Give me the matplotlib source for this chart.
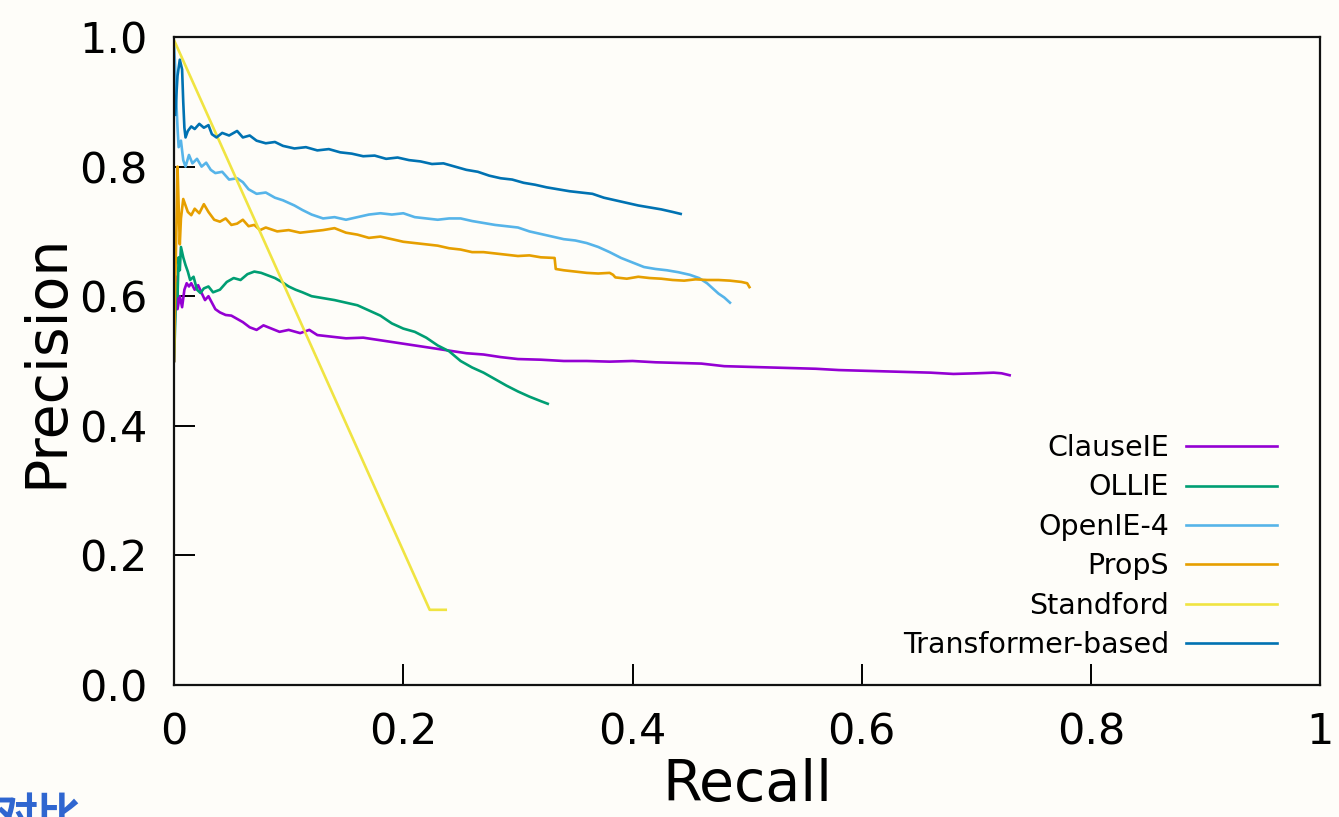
"""
Precision / recall curves of open IE systems, gnuplot-like styling.
"""
import matplotlib
matplotlib.use("Agg")
import matplotlib.pyplot as plt

BG = "#fefdf9"

# series values (recall, precision)
clauseie_r = [0.0, 0.001, 0.002, 0.003, 0.005, 0.007, 0.009, 0.011, 0.013, 0.015,
              0.018, 0.021, 0.024, 0.027, 0.030, 0.033, 0.036, 0.040, 0.045, 0.050,
              0.055, 0.060, 0.066, 0.072, 0.078, 0.085, 0.092, 0.100, 0.110, 0.118,
              0.125, 0.135, 0.150, 0.165, 0.180, 0.195, 0.210, 0.225, 0.240, 0.255,
              0.270, 0.285, 0.300, 0.320, 0.340, 0.360, 0.380, 0.400, 0.420, 0.440,
              0.460, 0.480, 0.500, 0.520, 0.540, 0.560, 0.580, 0.600, 0.620, 0.640,
              0.660, 0.680, 0.700, 0.715, 0.722, 0.729]
clauseie_p = [0.50, 0.60, 0.63, 0.58, 0.60, 0.583, 0.61, 0.62, 0.615, 0.62,
              0.61, 0.617, 0.605, 0.594, 0.60, 0.59, 0.58, 0.575, 0.571, 0.57,
              0.565, 0.56, 0.552, 0.548, 0.555, 0.55, 0.545, 0.548, 0.543, 0.548,
              0.54, 0.538, 0.535, 0.536, 0.532, 0.528, 0.524, 0.52, 0.516, 0.512,
              0.51, 0.506, 0.503, 0.502, 0.50, 0.50, 0.499, 0.50, 0.498, 0.497,
              0.496, 0.492, 0.491, 0.49, 0.489, 0.488, 0.486, 0.485, 0.484, 0.483,
              0.482, 0.48, 0.481, 0.482, 0.481, 0.478]

ollie_r = [0.0, 0.001, 0.002, 0.003, 0.004, 0.005, 0.006, 0.008, 0.010, 0.012,
           0.014, 0.017, 0.020, 0.023, 0.026, 0.030, 0.034, 0.040, 0.046, 0.052,
           0.058, 0.064, 0.070, 0.076, 0.082, 0.088, 0.094, 0.100, 0.106, 0.112,
           0.120, 0.130, 0.140, 0.150, 0.160, 0.170, 0.180, 0.190, 0.200, 0.210,
           0.220, 0.230, 0.240, 0.250, 0.260, 0.270, 0.280, 0.290, 0.300, 0.310,
           0.320, 0.326]
ollie_p = [0.50, 0.56, 0.62, 0.60, 0.66, 0.64, 0.676, 0.66, 0.648, 0.638,
           0.625, 0.63, 0.61, 0.605, 0.612, 0.615, 0.606, 0.61, 0.622, 0.628,
           0.625, 0.634, 0.638, 0.636, 0.632, 0.628, 0.622, 0.615, 0.61, 0.606,
           0.60, 0.597, 0.594, 0.59, 0.586, 0.578, 0.57, 0.558, 0.55, 0.545,
           0.536, 0.524, 0.515, 0.50, 0.49, 0.482, 0.472, 0.462, 0.453, 0.445,
           0.438, 0.434]

openie_r = [0.0, 0.001, 0.002, 0.003, 0.004, 0.006, 0.008, 0.010, 0.013, 0.016,
            0.020, 0.024, 0.028, 0.032, 0.036, 0.042, 0.048, 0.055, 0.060, 0.065,
            0.072, 0.080, 0.088, 0.095, 0.105, 0.112, 0.120, 0.130, 0.140, 0.150,
            0.160, 0.170, 0.180, 0.190, 0.200, 0.210, 0.220, 0.230, 0.240, 0.250,
            0.260, 0.270, 0.280, 0.290, 0.300, 0.310, 0.320, 0.330, 0.340, 0.350,
            0.360, 0.370, 0.380, 0.390, 0.400, 0.410, 0.420, 0.430, 0.440, 0.450,
            0.458, 0.465, 0.470, 0.475, 0.480, 0.485]
openie_p = [0.99, 0.95, 0.90, 0.86, 0.83, 0.84, 0.81, 0.80, 0.818, 0.805,
            0.812, 0.80, 0.806, 0.795, 0.79, 0.792, 0.78, 0.782, 0.776, 0.765,
            0.758, 0.76, 0.752, 0.748, 0.74, 0.733, 0.726, 0.72, 0.722, 0.718,
            0.722, 0.726, 0.728, 0.726, 0.728, 0.722, 0.72, 0.718, 0.72, 0.72,
            0.716, 0.713, 0.71, 0.708, 0.706, 0.70, 0.696, 0.692, 0.688, 0.686,
            0.682, 0.676, 0.668, 0.659, 0.652, 0.645, 0.642, 0.64, 0.637, 0.633,
            0.628, 0.62, 0.612, 0.604, 0.598, 0.59]

props_r = [0.0, 0.001, 0.002, 0.003, 0.004, 0.005, 0.006, 0.008, 0.010, 0.012,
           0.015, 0.018, 0.022, 0.026, 0.030, 0.035, 0.040, 0.045, 0.050, 0.055,
           0.060, 0.065, 0.070, 0.075, 0.080, 0.090, 0.100, 0.110, 0.120, 0.130,
           0.140, 0.150, 0.160, 0.170, 0.180, 0.190, 0.200, 0.210, 0.220, 0.230,
           0.240, 0.250, 0.260, 0.270, 0.280, 0.290, 0.300, 0.310, 0.320, 0.332,
           0.333, 0.340, 0.350, 0.360, 0.370, 0.380, 0.383, 0.385, 0.395, 0.405,
           0.415, 0.425, 0.435, 0.445, 0.455, 0.465, 0.475, 0.485, 0.495, 0.500,
           0.502]
props_p = [0.50, 0.62, 0.70, 0.80, 0.74, 0.68, 0.72, 0.75, 0.74, 0.73,
           0.725, 0.735, 0.728, 0.742, 0.73, 0.718, 0.715, 0.72, 0.71, 0.712,
           0.718, 0.708, 0.71, 0.702, 0.706, 0.70, 0.702, 0.698, 0.70, 0.702,
           0.705, 0.698, 0.695, 0.69, 0.692, 0.688, 0.684, 0.682, 0.68, 0.678,
           0.674, 0.672, 0.668, 0.668, 0.666, 0.664, 0.662, 0.663, 0.66, 0.659,
           0.642, 0.64, 0.638, 0.636, 0.635, 0.636, 0.633, 0.629, 0.627, 0.63,
           0.628, 0.627, 0.625, 0.624, 0.626, 0.625, 0.625, 0.624, 0.622, 0.62,
           0.614]

stanford_r = [0.0, 0.223, 0.237]
stanford_p = [0.995, 0.116, 0.116]

transformer_r = [0.001, 0.003, 0.005, 0.007, 0.008, 0.009, 0.010, 0.012, 0.015, 0.018,
                 0.022, 0.026, 0.030, 0.033, 0.037, 0.042, 0.048, 0.055, 0.060, 0.066,
                 0.072, 0.080, 0.088, 0.095, 0.105, 0.115, 0.125, 0.135, 0.145, 0.155,
                 0.165, 0.175, 0.185, 0.195, 0.205, 0.215, 0.225, 0.235, 0.245, 0.255,
                 0.265, 0.275, 0.285, 0.295, 0.305, 0.315, 0.325, 0.335, 0.345, 0.355,
                 0.365, 0.375, 0.385, 0.395, 0.405, 0.415, 0.425, 0.435, 0.442]
transformer_p = [0.88, 0.94, 0.965, 0.95, 0.90, 0.86, 0.845, 0.855, 0.862, 0.858,
                 0.866, 0.86, 0.864, 0.85, 0.845, 0.852, 0.848, 0.855, 0.845, 0.848,
                 0.84, 0.836, 0.838, 0.832, 0.828, 0.83, 0.825, 0.827, 0.822, 0.82,
                 0.816, 0.817, 0.812, 0.814, 0.81, 0.808, 0.804, 0.805, 0.80, 0.795,
                 0.792, 0.786, 0.782, 0.78, 0.775, 0.772, 0.768, 0.765, 0.762, 0.76,
                 0.758, 0.752, 0.748, 0.744, 0.74, 0.737, 0.734, 0.73, 0.727]

series = [
    ("ClauseIE", clauseie_r, clauseie_p, "#9400d3"),
    ("OLLIE", ollie_r, ollie_p, "#009e73"),
    ("OpenIE-4", openie_r, openie_p, "#56b4e9"),
    ("PropS", props_r, props_p, "#e69f00"),
    ("Standford", stanford_r, stanford_p, "#f0e442"),
    ("Transformer-based", transformer_r, transformer_p, "#0072b2"),
]

x_ticks = [0, 0.2, 0.4, 0.6, 0.8, 1]
x_ticklabels = ["0", "0.2", "0.4", "0.6", "0.8", "1"]
y_ticks = [0, 0.2, 0.4, 0.6, 0.8, 1.0]
y_ticklabels = ["0.0", "0.2", "0.4", "0.6", "0.8", "1.0"]

plt.rcParams["font.family"] = ["DejaVu Sans"]

fig = plt.figure(figsize=(13.39, 8.17), dpi=100, facecolor=BG)
ax = fig.add_axes([0.130, 0.1616, 0.856, 0.7931], facecolor=BG)

for name, r, p, col in series:
    ax.plot(r, p, color=col, lw=1.9, label=name)

ax.set_xlim(0, 1)
ax.set_ylim(0, 1)
ax.set_xticks(x_ticks, x_ticklabels)
ax.set_yticks(y_ticks, y_ticklabels)
ax.tick_params(direction="in", length=15, width=1.4, labelsize=31,
               top=False, right=False)
ax.tick_params(axis="x", pad=19)
ax.tick_params(axis="y", pad=19)
for sp in ax.spines.values():
    sp.set_linewidth(1.6)
    sp.set_color("#111111")

ax.set_xlabel("Recall", fontsize=41)
ax.xaxis.set_label_coords(0.5, -0.113)
ax.set_ylabel("Precision", fontsize=41)
ax.yaxis.set_label_coords(-0.087, 0.5)

ax.legend(loc="lower right", bbox_to_anchor=(0.9625, 0.04), frameon=False,
          markerfirst=False, fontsize=20.5, handlelength=3.2, handletextpad=0.6,
          labelspacing=0.4, borderpad=0, borderaxespad=0)

# clipped caption fragment at the bottom-left edge of the slide
fig.text(81 / 1339, 1 - 794 / 817, "对比", ha="right", va="top", fontsize=31,
         color="#2f66d0", weight="bold",
         family=["Noto Sans CJK SC", "DejaVu Sans"])

fig.savefig("out.png", dpi=100, facecolor=BG)
